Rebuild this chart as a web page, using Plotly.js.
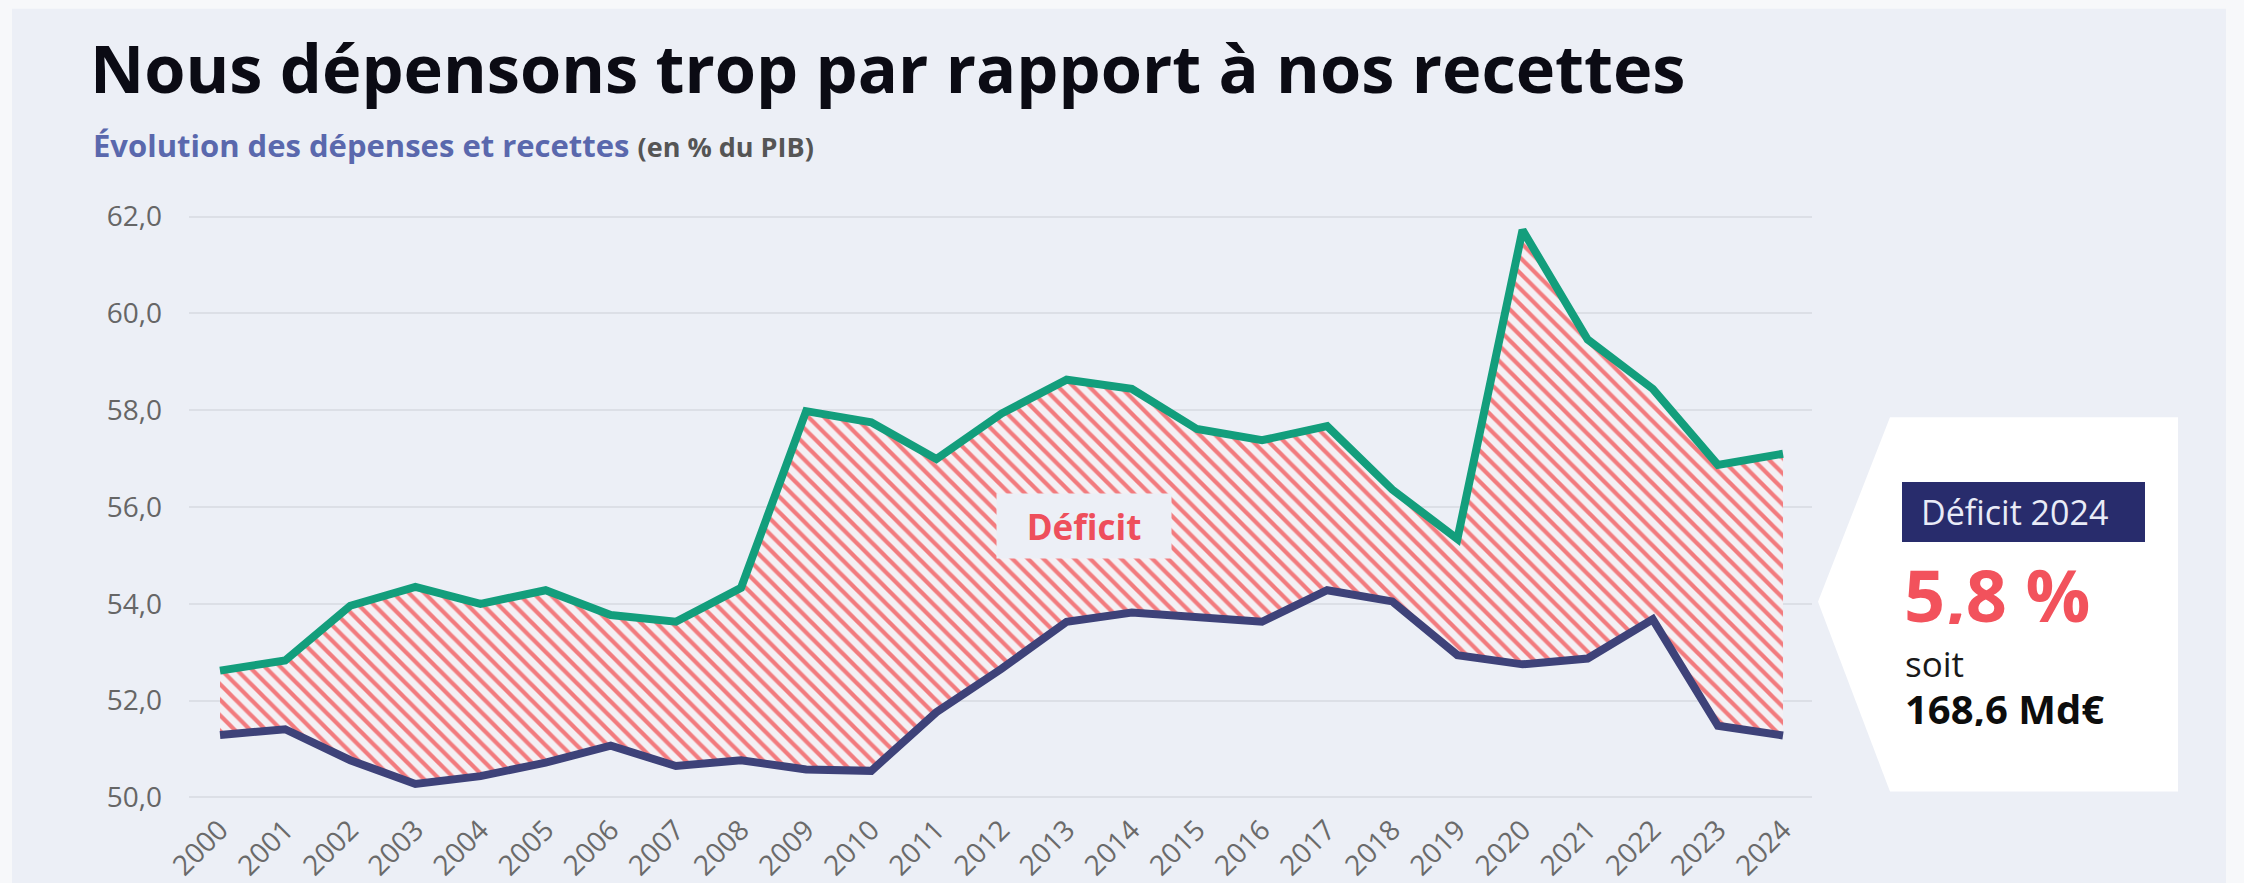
<!DOCTYPE html>
<html>
<head>
<meta charset="utf-8">
<script src="https://cdn.plot.ly/plotly-3.0.1.min.js"></script>
<style>html,body{margin:0;padding:0;background:#f7f8fa;}#chart{width:2244px;height:883px;}</style>
</head>
<body>
<div id="chart"></div>
<script>
// ---- Data ----
const years = [2000, 2001, 2002, 2003, 2004, 2005, 2006, 2007, 2008, 2009, 2010, 2011, 2012,
               2013, 2014, 2015, 2016, 2017, 2018, 2019, 2020, 2021, 2022, 2023, 2024];
const depenses = [52.62, 52.83, 53.96, 54.35, 54.00, 54.28, 53.77, 53.63, 54.33, 57.98, 57.75, 56.99, 57.93,
                  58.63, 58.44, 57.61, 57.38, 57.67, 56.36, 55.34, 61.72, 59.46, 58.44, 56.87, 57.10];
const recettes = [51.29, 51.41, 50.77, 50.28, 50.44, 50.72, 51.07, 50.65, 50.77, 50.58, 50.55, 51.76, 52.66,
                  53.63, 53.82, 53.73, 53.63, 54.28, 54.05, 52.94, 52.75, 52.87, 53.68, 51.48, 51.28];
const yTicks = [50, 52, 54, 56, 58, 60, 62];
const titleText = "Nous dépensons trop par rapport à nos recettes";
const subtitleMain = "Évolution des dépenses et recettes";
const subtitleUnit = "(en % du PIB)";
const deficitLabel = "Déficit";
const boxHeader = "Déficit 2024";
const boxValue = "5,8 %";
const boxSoit = "soit";
const boxAmount = "168,6 Md€";

// ---- Layout geometry ----
const W = 2244, H = 883;
const M = {l: 189, r: 432, t: 201.5, b: 70.5};
const plotW = W - M.l - M.r, plotH = H - M.t - M.b;
const px = x => (x - M.l) / plotW;          // pixel -> paper x
const py = y => (H - M.b - y) / plotH;      // pixel -> paper y
const FONT = "Open Sans, Noto Sans, sans-serif";

const traces = [
  {
    x: years, y: recettes, type: 'scatter', mode: 'lines', name: 'Recettes',
    line: {color: '#3e4279', width: 8, shape: 'linear'},
    hoverinfo: 'skip'
  },
  {
    x: years, y: depenses, type: 'scatter', mode: 'lines', name: 'Dépenses',
    line: {color: '#139e7c', width: 8, shape: 'linear'},
    fill: 'tonexty',
    fillcolor: 'rgba(0,0,0,0)',
    fillpattern: {shape: '\\', fgcolor: '#f27b7e', bgcolor: '#f4f0f4', size: 11, solidity: 0.38, fillmode: 'replace'},
    hoverinfo: 'skip'
  }
];

const pentagon = `M ${px(1890)} ${py(417)} L ${px(2178)} ${py(417)} L ${px(2178)} ${py(792)} L ${px(1890)} ${py(792)} L ${px(1818)} ${py(602)} Z`;

const layout = {
  width: W, height: H,
  margin: M,
  paper_bgcolor: '#f7f8fa',
  plot_bgcolor: 'rgba(0,0,0,0)',
  showlegend: false,
  separators: ', ',
  font: {family: FONT, color: '#555'},
  title: {
    text: titleText,
    font: {family: FONT, size: 66.7, weight: 700, color: '#0b0b14'},
    xref: 'container', yref: 'container',
    x: 90 / W, xanchor: 'left',
    y: 1 - 70 / H, yanchor: 'middle',
    pad: {t: 0, b: 0, l: 0, r: 0}
  },
  xaxis: {
    type: 'linear',
    range: [1999.524, 2024.445],
    tickvals: years,
    ticktext: years.map(String),
    tickangle: -45,
    tickfont: {family: FONT, size: 28, color: '#6a6a6a'},
    ticks: '',
    ticklabelstandoff: -5,
    showgrid: false, zeroline: false, showline: false,
    fixedrange: true
  },
  yaxis: {
    range: [49.7, 62.3],
    tickvals: yTicks,
    tickformat: '.1f',
    tickfont: {family: FONT, size: 28, color: '#666'},
    ticks: '',
    ticklabelstandoff: 26,
    showgrid: true, gridcolor: '#dcdfe6', gridwidth: 2,
    zeroline: false, showline: false,
    fixedrange: true
  },
  shapes: [
    {type: 'rect', xref: 'paper', yref: 'paper', layer: 'below',
     x0: px(12), x1: px(2226), y0: py(H + 10), y1: py(8),
     fillcolor: '#eceff6', line: {width: 0}},
    {type: 'path', xref: 'paper', yref: 'paper', layer: 'above',
     path: pentagon, fillcolor: '#ffffff', line: {width: 0}},
    {type: 'rect', xref: 'paper', yref: 'paper', layer: 'above',
     x0: px(1902), x1: px(2145), y0: py(542), y1: py(482),
     fillcolor: '#282c6c', line: {width: 0}}
  ],
  annotations: [
    {xref: 'paper', yref: 'paper', x: px(91), y: py(144), xanchor: 'left', yanchor: 'middle',
     showarrow: false, align: 'left',
     text: `<span style="color:#5a68ad;font-weight:700">${subtitleMain}</span> <span style="color:#555555;font-size:27px;font-weight:700">${subtitleUnit}</span>`,
     font: {family: FONT, size: 31, color: '#5a68ad'}},
    {xref: 'paper', yref: 'paper', x: px(1084), y: py(526), xanchor: 'center', yanchor: 'middle',
     showarrow: false, text: deficitLabel, width: 174, height: 64, bgcolor: '#eceff6', borderpad: 0,
     font: {family: FONT, size: 35, weight: 700, color: '#ee4f5c'}},
    {xref: 'paper', yref: 'paper', x: px(1920), y: py(512), xanchor: 'left', yanchor: 'middle',
     showarrow: false, text: boxHeader, borderpad: 0,
     font: {family: FONT, size: 34, color: '#e9ebf7'}},
    {xref: 'paper', yref: 'paper', x: px(1903), y: py(594), xanchor: 'left', yanchor: 'middle',
     showarrow: false, text: boxValue, borderpad: 0, height: 60,
     font: {family: FONT, size: 72, weight: 700, color: '#f2525c'}},
    {xref: 'paper', yref: 'paper', x: px(1904), y: py(663), xanchor: 'left', yanchor: 'middle',
     showarrow: false, text: boxSoit, borderpad: 0, height: 32,
     font: {family: FONT, size: 35, color: '#1a1a1a'}},
    {xref: 'paper', yref: 'paper', x: px(1904), y: py(708), xanchor: 'left', yanchor: 'middle',
     showarrow: false, text: boxAmount, borderpad: 0, height: 36,
     font: {family: FONT, size: 40, weight: 700, color: '#0d0d0d'}}
  ]
};

Plotly.newPlot('chart', traces, layout, {staticPlot: true, displayModeBar: false});
</script>
</body>
</html>
